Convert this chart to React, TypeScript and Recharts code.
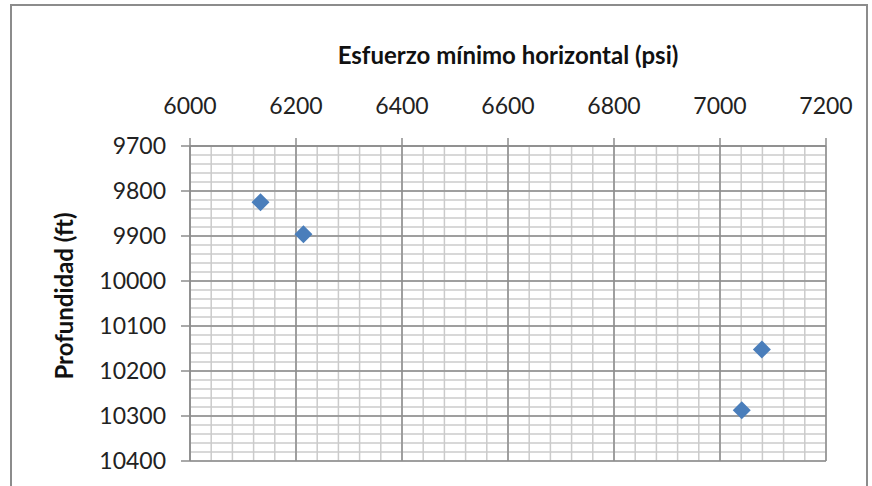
import { ScatterChart, Scatter, XAxis, YAxis, CartesianGrid } from 'recharts';

const stressPsi = [6133, 6214, 7079, 7041];
const depthFt = [9825, 9896, 10152, 10287];

const xTicks = [6000, 6200, 6400, 6600, 6800, 7000, 7200];
const yTicks = [9700, 9800, 9900, 10000, 10100, 10200, 10300, 10400];

// minor gridlines: 5 divisions per major step
const xMinor = Array.from({ length: 31 }, (_, i) => 6000 + i * 40);
const yMinor = Array.from({ length: 36 }, (_, i) => 9700 + i * 20);

const data = stressPsi.map((x, i) => ({ x, y: depthFt[i] }));

const font = 'Lato, "Open Sans", sans-serif';

const Diamond = (props: any) => {
  const { cx, cy } = props;
  const r = 9;
  return (
    <polygon
      points={`${cx},${cy - r} ${cx + r},${cy} ${cx},${cy + r} ${cx - r},${cy}`}
      fill="#4a7ebb"
    />
  );
};

export default function App() {
  return (
    <div style={{ position: 'absolute', left: 0, top: 0, width: 872, height: 486, background: '#fff', overflow: 'hidden' }}>
      <div style={{ position: 'absolute', left: 10, top: 4, width: 854, height: 520, border: '2px solid #8c8c8c' }} />
      <div
        style={{
          position: 'absolute', left: 190, width: 636, top: 40, textAlign: 'center',
          fontFamily: font, fontWeight: 'bold', fontSize: 24, color: '#111',
        }}
      >
        Esfuerzo mínimo horizontal (psi)
      </div>
      <div
        style={{
          position: 'absolute', left: 64, top: 296, width: 300, marginLeft: -150, marginTop: -15,
          transform: 'rotate(-90deg)', textAlign: 'center',
          fontFamily: font, fontWeight: 'bold', fontSize: 24, color: '#111', lineHeight: '30px',
        }}
      >
        Profundidad (ft)
      </div>
      <ScatterChart width={872} height={486} margin={{ top: 86, left: 90, right: 46, bottom: 25 }} style={{ position: 'absolute', left: 0, top: 0 }}>
        <CartesianGrid
          stroke="#cbcbcb"
          strokeWidth={1.5}
          horizontalValues={yMinor}
          verticalValues={xMinor}
        />
        <CartesianGrid stroke="#8c8c8c" strokeWidth={1.5} />
        <XAxis
          type="number"
          dataKey="x"
          orientation="top"
          domain={[6000, 7200]}
          ticks={xTicks}
          height={60}
          tickSize={8}
          tickMargin={24}
          axisLine={{ stroke: '#8c8c8c', strokeWidth: 1.5 }}
          tickLine={{ stroke: '#8c8c8c', strokeWidth: 1.5 }}
          tick={{ fontFamily: font, fontSize: 23, fill: '#222' }}
          interval={0}
        />
        <YAxis
          type="number"
          dataKey="y"
          reversed
          domain={[9700, 10400]}
          ticks={yTicks}
          width={100}
          tickSize={9}
          tickMargin={15}
          axisLine={{ stroke: '#8c8c8c', strokeWidth: 1.5 }}
          tickLine={{ stroke: '#8c8c8c', strokeWidth: 1.5 }}
          tick={{ fontFamily: font, fontSize: 23, fill: '#222' }}
          interval={0}
        />
        <Scatter data={data} shape={Diamond} isAnimationActive={false} />
      </ScatterChart>
    </div>
  );
}
